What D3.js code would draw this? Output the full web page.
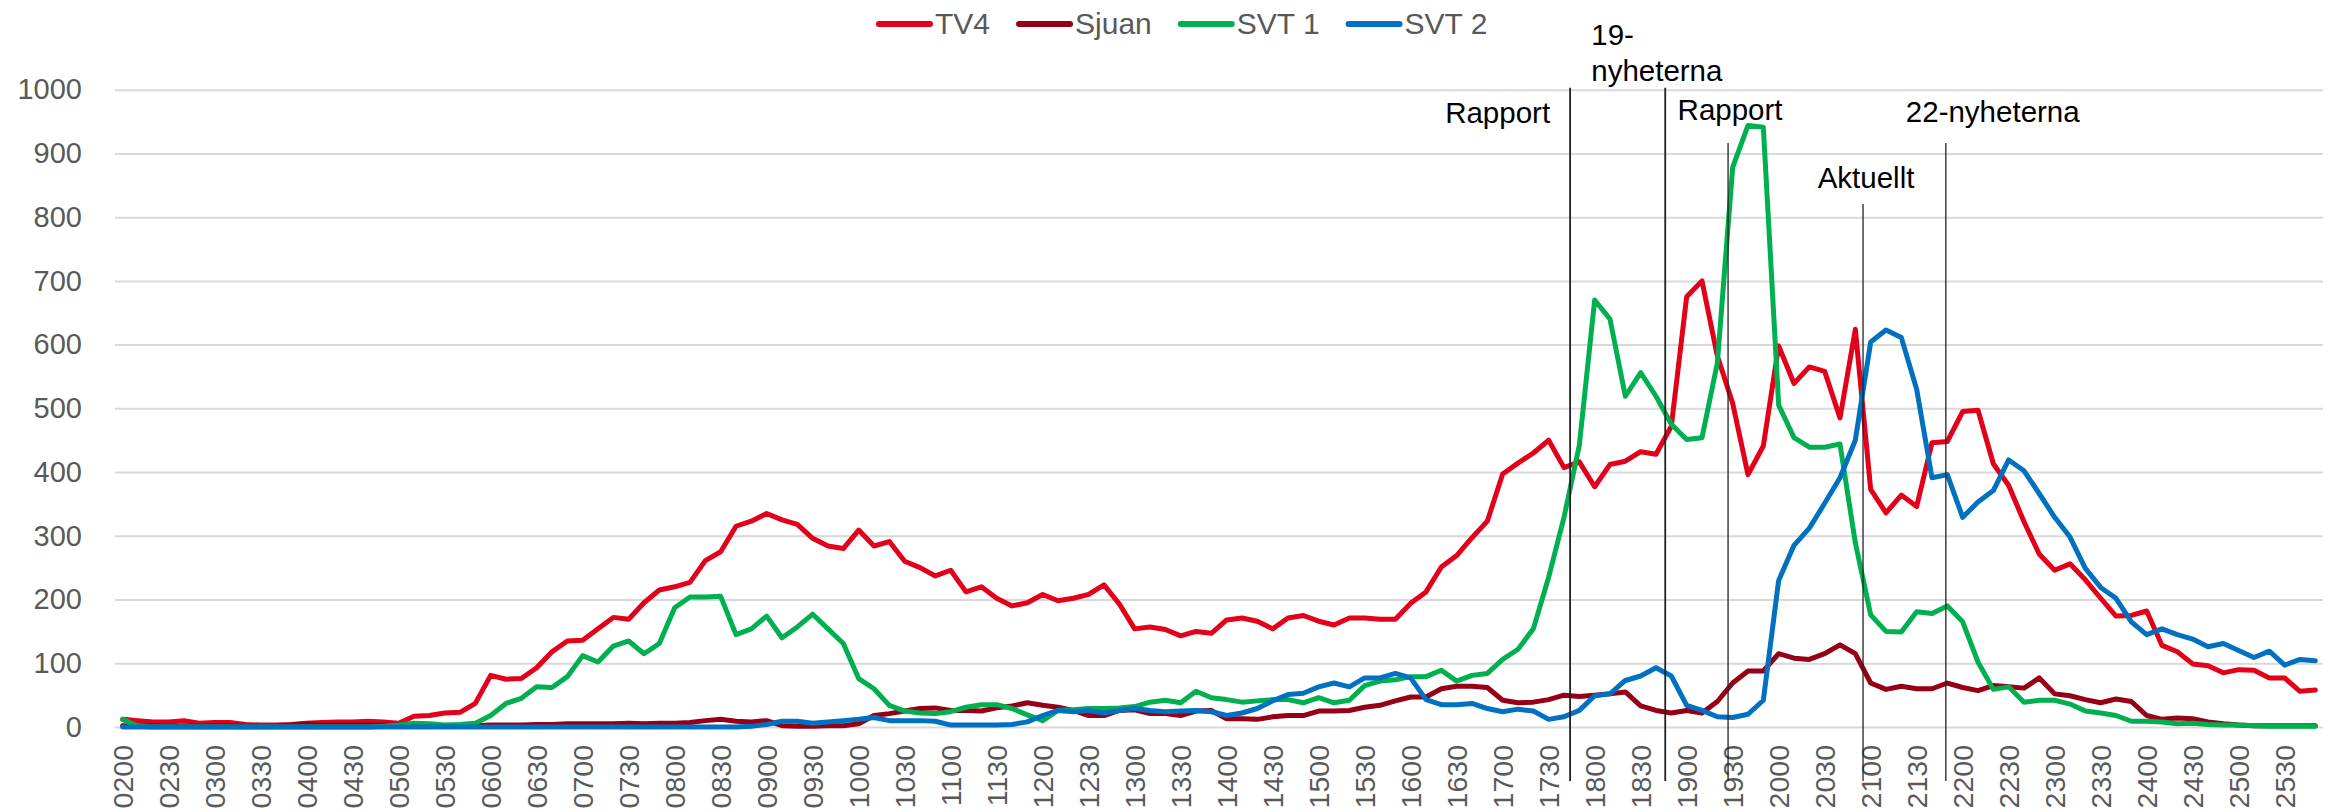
<!DOCTYPE html>
<html>
<head>
<meta charset="utf-8">
<script src="https://cdn.jsdelivr.net/npm/d3@7"></script>
<style>
  body { margin: 0; background: #fff; }
  svg { display: block; font-family: 'Liberation Sans', Arial, sans-serif; }
</style>
</head>
<body>
<div id="chart"></div>
<script>
// time slots, every 10 minutes
var categories = [
  "0200","0210","0220","0230","0240","0250","0300","0310","0320","0330","0340","0350",
  "0400","0410","0420","0430","0440","0450","0500","0510","0520","0530","0540","0550",
  "0600","0610","0620","0630","0640","0650","0700","0710","0720","0730","0740","0750",
  "0800","0810","0820","0830","0840","0850","0900","0910","0920","0930","0940","0950",
  "1000","1010","1020","1030","1040","1050","1100","1110","1120","1130","1140","1150",
  "1200","1210","1220","1230","1240","1250","1300","1310","1320","1330","1340","1350",
  "1400","1410","1420","1430","1440","1450","1500","1510","1520","1530","1540","1550",
  "1600","1610","1620","1630","1640","1650","1700","1710","1720","1730","1740","1750",
  "1800","1810","1820","1830","1840","1850","1900","1910","1920","1930","1940","1950",
  "2000","2010","2020","2030","2040","2050","2100","2110","2120","2130","2140","2150",
  "2200","2210","2220","2230","2240","2250","2300","2310","2320","2330","2340","2350",
  "2400","2410","2420","2430","2440","2450","2500","2510","2520","2530","2540","2550"
];

var tickLabels = [
  "0200","0230","0300","0330","0400","0430","0500","0530","0600","0630","0700","0730",
  "0800","0830","0900","0930","1000","1030","1100","1130","1200","1230","1300","1330",
  "1400","1430","1500","1530","1600","1630","1700","1730","1800","1830","1900","1930",
  "2000","2030","2100","2130","2200","2230","2300","2330","2400","2430","2500","2530"
];

var yTicks = [0, 100, 200, 300, 400, 500, 600, 700, 800, 900, 1000];

var tv4 = [
  12, 10, 8, 8, 10, 6,   7, 7, 4, 3, 3, 4,
  6, 7, 8, 8, 9, 8,      6, 17, 18, 22, 23, 37,
  81, 75, 76, 93, 118, 135,   136, 154, 172, 169, 195, 215,
  220, 227, 261, 275, 315, 323,   335, 325, 318, 296, 284, 280,
  309, 284, 291, 260, 250, 237,   246, 212, 220, 202, 190, 195,
  208, 198, 202, 208, 223, 193,   154, 157, 153, 143, 150, 147,
  168, 171, 166, 154, 171, 175,   166, 160, 171, 171, 169, 169,
  194, 212, 251, 269, 297, 323,   397, 414, 430, 450, 407, 416,
  377, 412, 417, 432, 428, 472,   675, 700, 582, 508, 396, 441,
  598, 539, 565, 558, 485, 624,   373, 336, 364, 346, 446, 448,
  495, 497, 413, 379, 322, 271,   246, 256, 231, 202, 174, 175,
  182, 128, 118, 99, 96, 85,      90, 89, 77, 77, 56, 58
];

var sjuan = [
  2, 2, 2, 1, 2, 1,   2, 2, 1, 1, 1, 3,
  5, 3, 3, 3, 3, 3,   3, 3, 2, 2, 2, 2,
  3, 3, 3, 4, 4, 5,   5, 5, 5, 6, 5, 6,
  6, 7, 10, 12, 9, 8,   10, 2, 1, 1, 2, 2,
  5, 18, 21, 25, 29, 30,   26, 26, 25, 30, 33, 38,
  34, 31, 26, 18, 18, 26,   27, 21, 21, 18, 25, 26,
  13, 13, 12, 16, 18, 18,   25, 25, 26, 31, 34, 41,
  47, 47, 60, 64, 64, 62,   42, 38, 39, 43, 50, 48,
  50, 52, 55, 33, 26, 22,   26, 22, 40, 69, 88, 88,
  115, 108, 106, 115, 129, 115,   69, 59, 64, 60, 60, 69,
  62, 57, 65, 63, 61, 77,   52, 49, 43, 38, 44, 40,
  18, 12, 14, 13, 8, 5,     3, 2, 2, 2, 2, 2
];

var svt1 = [
  12, 1, 0, 0, 0, 0,   0, 0, 0, 0, 0, 0,
  0, 0, 0, 0, 0, 1,    3, 6, 5, 3, 4, 6,
  18, 37, 45, 63, 62, 79,   112, 102, 127, 135, 115, 131,
  187, 204, 204, 205, 145, 154,   174, 140, 157, 177, 154, 131,
  76, 60, 34, 25, 22, 21,   24, 31, 35, 35, 29, 19,
  10, 26, 27, 29, 29, 30,   32, 39, 42, 38, 56, 46,
  43, 39, 41, 43, 43, 38,   46, 38, 42, 65, 72, 74,
  79, 79, 89, 72, 81, 84,   106, 122, 154, 235, 329, 442,
  670, 640, 519, 556, 519, 475,   451, 454, 571, 878, 944, 941,
  505, 454, 439, 439, 444, 289,   176, 150, 149, 181, 178, 190,
  165, 102, 59, 63, 39, 42,   42, 36, 25, 22, 18, 9,
  9, 8, 5, 6, 4, 3,   3, 2, 1, 1, 1, 1
];

var svt2 = [
  0, 0, 0, 0, 0, 0,   0, 0, 0, 0, 0, 0,
  0, 0, 0, 0, 0, 0,   0, 0, 0, 0, 0, 0,
  0, 0, 0, 0, 0, 0,   0, 0, 0, 0, 0, 0,
  0, 0, 0, 0, 0, 1,   4, 9, 9, 6, 8, 10,
  12, 15, 10, 10, 10, 9,   3, 3, 3, 3, 4, 8,
  18, 26, 24, 26, 22, 26,   29, 26, 24, 25, 26, 24,
  18, 22, 29, 41, 51, 53,   63, 69, 63, 77, 77, 84,
  77, 43, 35, 35, 37, 29,   24, 28, 25, 12, 16, 26,
  49, 52, 73, 80, 93, 80,   34, 26, 16, 15, 20, 42,
  230, 285, 312, 351, 391, 450,   604, 623, 611, 530, 391, 396,
  329, 353, 371, 419, 402, 366,   329, 298, 249, 219, 202, 165,
  145, 154, 145, 138, 126, 131,   120, 109, 119, 97, 106, 104
];

var seriesNames = ["TV4", "Sjuan", "SVT 1", "SVT 2"];
var seriesColors = ["#e2001a", "#960016", "#00b050", "#0070c0"];

// news programmes, time in decimal hours
var newsNames = ["Rapport", "19-|nyheterna", "Rapport", "Aktuellt", "22-nyheterna"];
var newsHours = [17.733, 18.767, 19.45, 20.917, 21.817];

var W = 2336, H = 812;
var margin = { left: 115, right: 13, top: 90, bottom: 85 };

var svg = d3.select('#chart').append('svg')
    .attr('width', W)
    .attr('height', H);

var x = d3.scaleBand()
    .domain(categories)
    .range([margin.left, W - margin.right]);

var y = d3.scaleLinear()
    .domain([0, 1000])
    .range([H - margin.bottom, margin.top - 0.3]);

function cx(c) { return x(c) + x.bandwidth() / 2; }

// position in hours -> pixels (2:00 is the first slot, one slot per 10 minutes)
var hourX = d3.scaleLinear()
    .domain([2, 2 + (categories.length - 1) / 6])
    .range([cx(categories[0]), cx(categories[categories.length - 1])]);

// grid + y labels
var yAxis = svg.append('g')
    .attr('transform', 'translate(' + margin.left + ',0)')
    .call(d3.axisLeft(y).tickValues(yTicks).tickFormat(d3.format('d'))
        .tickSize(-(W - margin.left - margin.right)).tickPadding(33));
yAxis.select('.domain').remove();
yAxis.selectAll('.tick line').attr('stroke', '#d9d9d9').attr('stroke-width', 2);
yAxis.selectAll('.tick text')
    .attr('fill', '#595959')
    .style('font-size', '29px')
    .style('font-family', "'Liberation Sans', Arial, sans-serif");

// x labels
var xAxis = svg.append('g')
    .attr('transform', 'translate(0,' + (H - margin.bottom) + ')')
    .call(d3.axisBottom(x).tickValues(tickLabels).tickSize(0));
xAxis.select('.domain').remove();
xAxis.selectAll('.tick text')
    .attr('fill', '#595959')
    .style('font-size', '28.5px')
    .style('font-family', "'Liberation Sans', Arial, sans-serif")
    .attr('text-anchor', 'end')
    .attr('transform', 'rotate(-90)')
    .attr('x', -18)
    .attr('y', 0)
    .attr('dy', '0.35em');

// series lines
var allSeries = [tv4, sjuan, svt1, svt2];
var line = d3.line()
    .x(function (d, i) { return cx(categories[i]); })
    .y(function (d) { return y(d); });

allSeries.forEach(function (vals, k) {
    svg.append('path')
        .datum(vals)
        .attr('d', line)
        .attr('fill', 'none')
        .attr('stroke', seriesColors[k])
        .attr('stroke-width', 5)
        .attr('stroke-linejoin', 'round')
        .attr('stroke-linecap', 'round');
});

// news markers
var newsTop = [y(1000) - 2, y(1000) - 2, 143, 204, 143];
var newsBottom = H - margin.bottom + 54;
var news = svg.append('g');
newsHours.forEach(function (h, k) {
    var lx = hourX(h);
    news.append('line')
        .attr('x1', lx).attr('x2', lx)
        .attr('y1', newsTop[k]).attr('y2', newsBottom)
        .attr('stroke', '#222')
        .attr('stroke-width', k < 2 ? 1.8 : 1.3);
});

function newsText(tx, ty, anchor, txt) {
    news.append('text')
        .attr('x', tx).attr('y', ty)
        .attr('text-anchor', anchor)
        .attr('fill', '#000')
        .style('font-size', '29.5px')
        .text(txt);
}
var n0 = hourX(newsHours[0]), n1 = hourX(newsHours[1]), n2 = hourX(newsHours[2]),
    n3 = hourX(newsHours[3]), n4 = hourX(newsHours[4]);
newsText(n0 - 20, newsTop[0] + 35, 'end', newsNames[0]);
var parts = newsNames[1].split('|');
newsText(n1 - 74, newsTop[1] - 43, 'start', parts[0]);
newsText(n1 - 74, newsTop[1] - 7, 'start', parts[1]);
newsText(n2 + 2, newsTop[2] - 23, 'middle', newsNames[2]);
newsText(n3 + 3, newsTop[3] - 16, 'middle', newsNames[3]);
newsText(n4 - 40, newsTop[4] - 21, 'start', newsNames[4]);

// legend
var legend = svg.append('g');
var lx = 876;
seriesNames.forEach(function (name, k) {
    legend.append('line')
        .attr('x1', lx + 3).attr('x2', lx + 54)
        .attr('y1', 24).attr('y2', 24)
        .attr('stroke', seriesColors[k])
        .attr('stroke-width', 6)
        .attr('stroke-linecap', 'round');
    var t = legend.append('text')
        .attr('x', lx + 59).attr('y', 34)
        .attr('fill', '#595959')
        .style('font-size', '30px')
        .text(name);
    lx = lx + 59 + t.node().getComputedTextLength() + 26;
});
</script>
</body>
</html>
